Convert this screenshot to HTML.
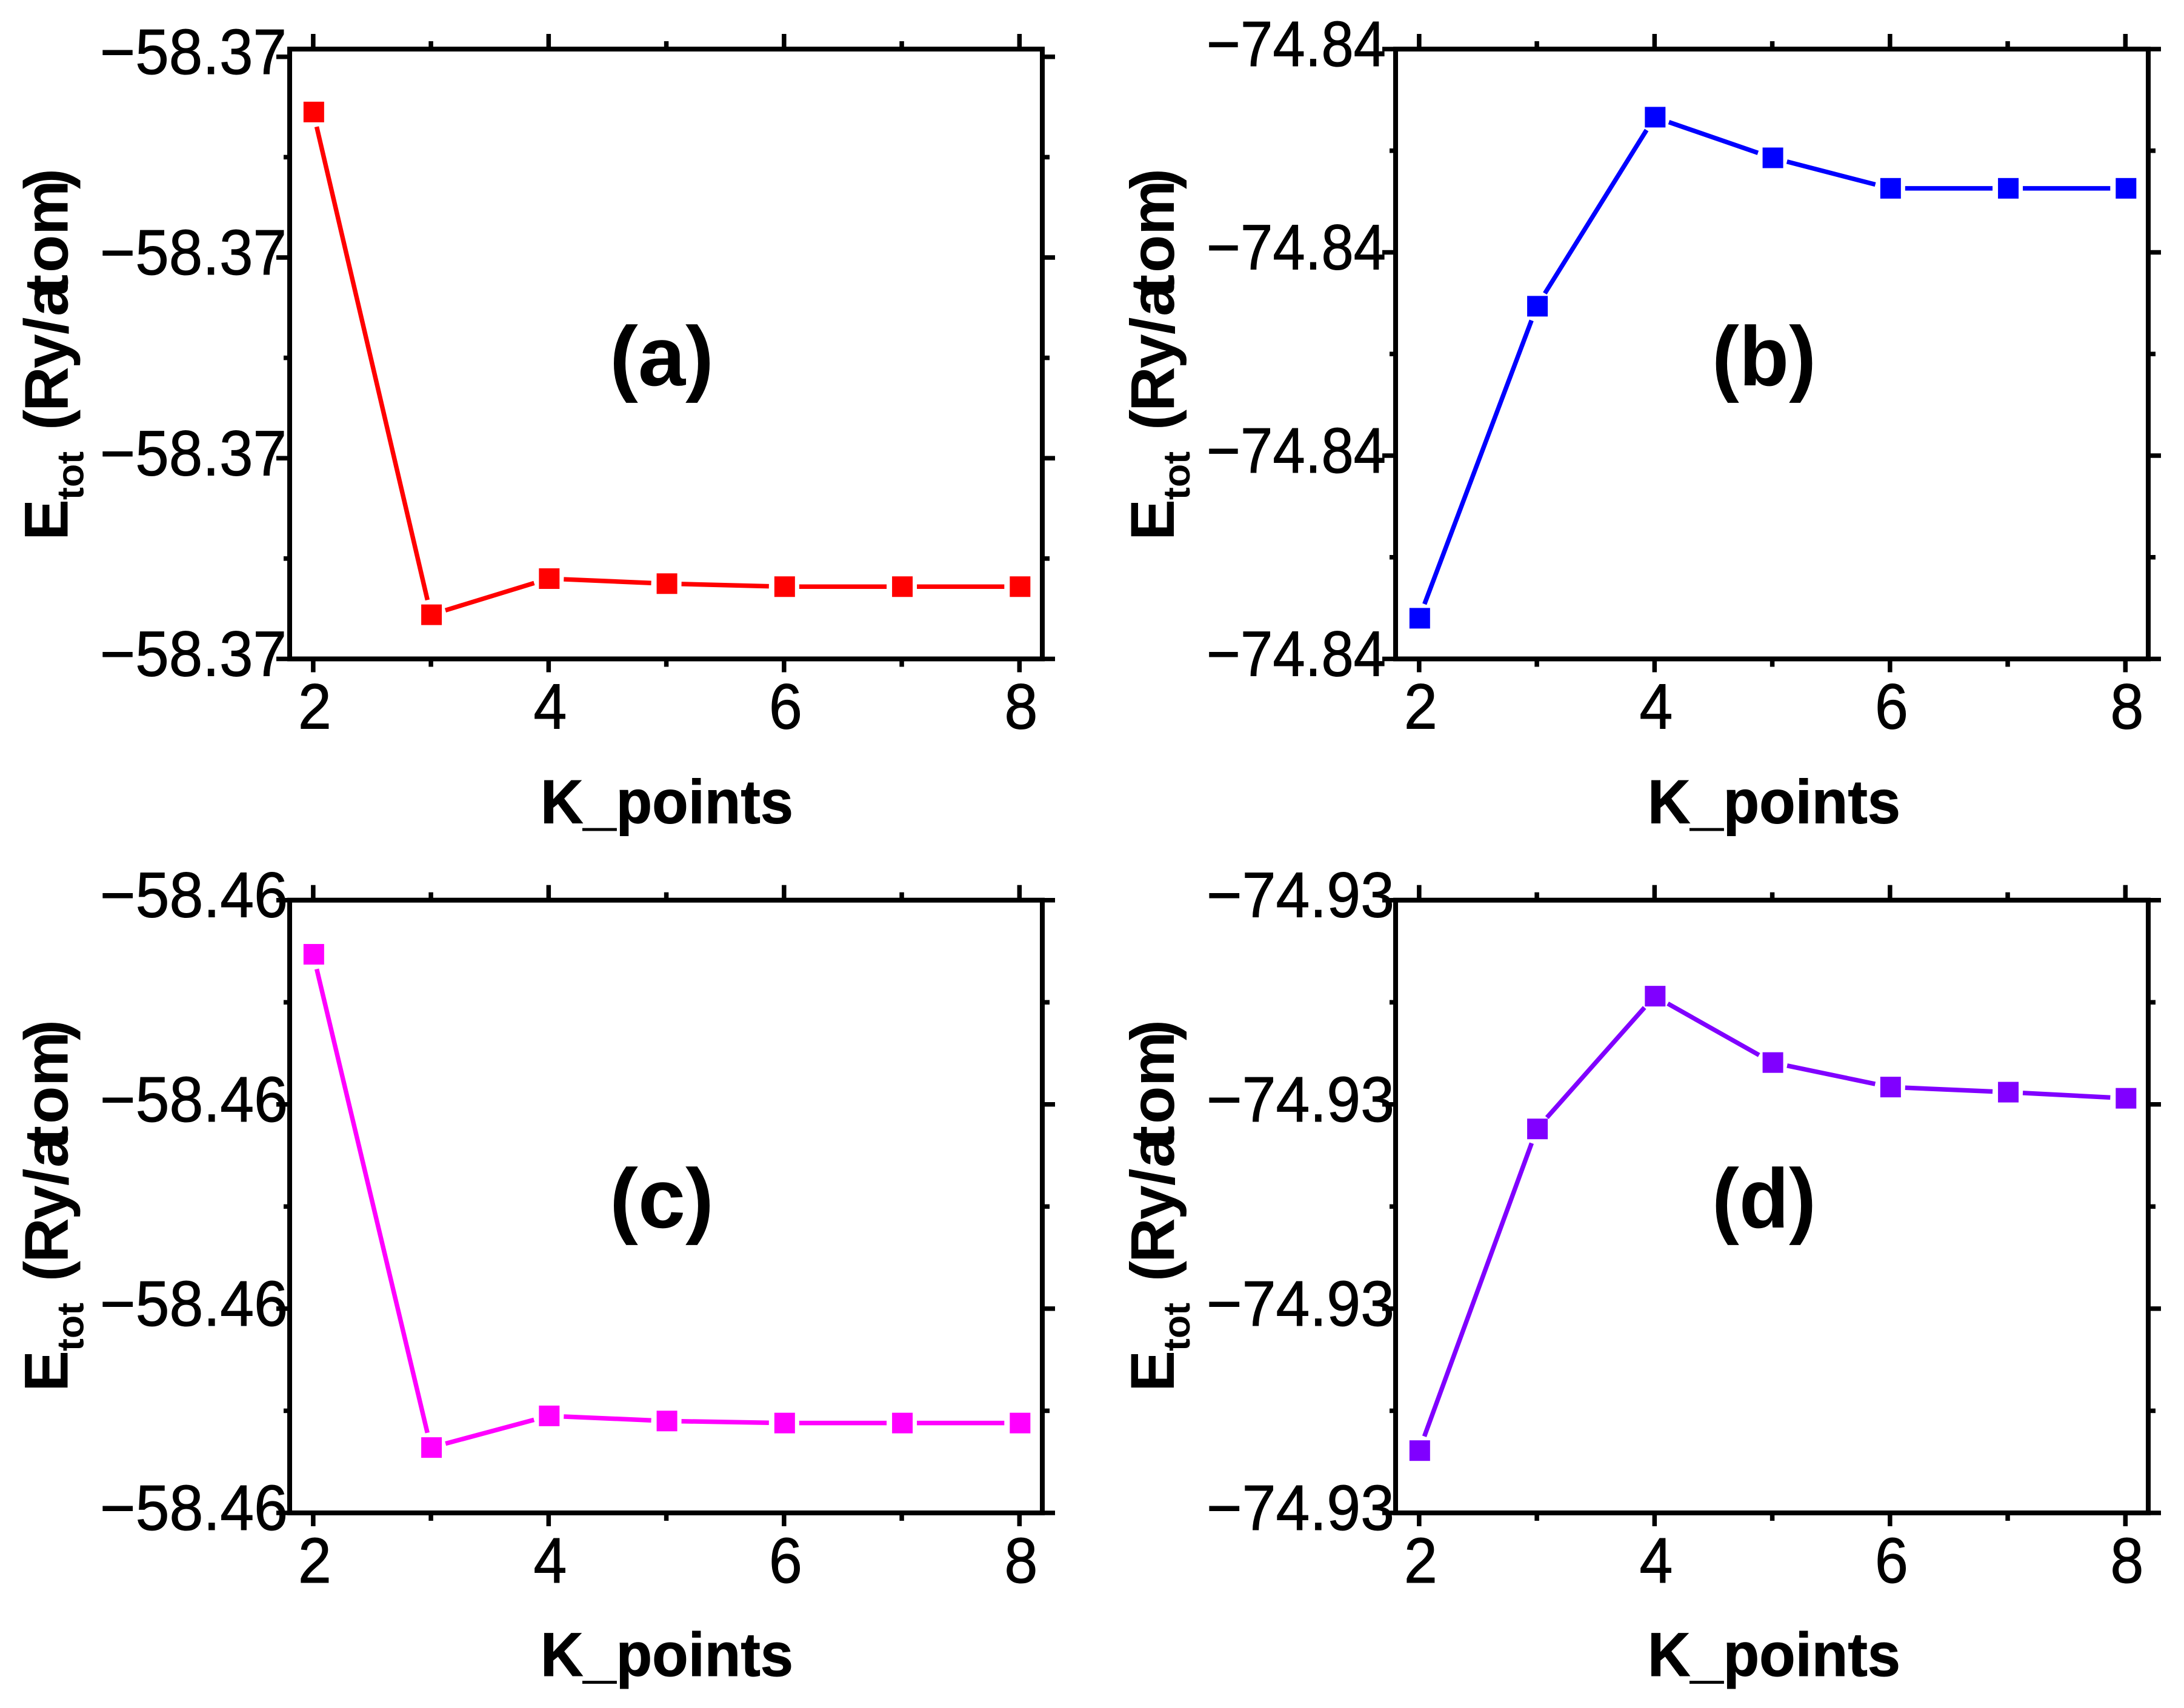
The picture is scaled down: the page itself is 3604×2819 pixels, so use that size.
<!DOCTYPE html>
<html>
<head>
<meta charset="utf-8">
<title>Total energy convergence versus K-points</title>
<style>
html,body{margin:0;padding:0;background:#fff;}
#chart{display:block;}
text{font-family:"Liberation Sans",Arial,sans-serif;fill:#000;}
</style>
</head>
<body>
<svg id="chart" xmlns="http://www.w3.org/2000/svg" width="3604" height="2819" viewBox="0 0 3604 2819"></svg>
<script>
var kPoints = [2, 3, 4, 5, 6, 7, 8];
var xTickValues = [2, 3, 4, 5, 6, 7, 8];
var xTickLabels = ["2", "", "4", "", "6", "", "8"];

var energyA = [-58.36655, -58.37156, -58.37120, -58.37125, -58.37128, -58.37128, -58.37128];
var energyB = [-74.84360, -74.84053, -74.83867, -74.83907, -74.83937, -74.83937, -74.83937];
var energyC = [-58.45853, -58.46336, -58.46305, -58.46310, -58.46312, -58.46312, -58.46312];
var energyD = [-74.93339, -74.93024, -74.92894, -74.92959, -74.92983, -74.92988, -74.92994];

var yTicksA = [-58.372, -58.370, -58.368, -58.366];
var yTicksB = [-74.844, -74.842, -74.840, -74.838];
var yTicksC = [-58.464, -58.462, -58.460, -58.458];
var yTicksD = [-74.934, -74.932, -74.930, -74.928];

var yLabelsA = ["\u221258.37", "\u221258.37", "\u221258.37", "\u221258.37"];
var yLabelsB = ["\u221274.84", "\u221274.84", "\u221274.84", "\u221274.84"];
var yLabelsC = ["\u221258.46", "\u221258.46", "\u221258.46", "\u221258.46"];
var yLabelsD = ["\u221274.93", "\u221274.93", "\u221274.93", "\u221274.93"];

var xDomain = [1.8, 8.194];

var svg = document.getElementById('chart');
var NS = 'http://www.w3.org/2000/svg';

function make(tag, attrs, parent) {
  var el = document.createElementNS(NS, tag);
  for (var key in attrs) { el.setAttribute(key, attrs[key]); }
  parent.appendChild(el);
  return el;
}

function drawPanel(p) {
  var g = make('g', {}, svg);
  
  

  var xScale = function (v) {
    return p.left + (v - xDomain[0]) / (xDomain[1] - xDomain[0]) * (p.right - p.left);
  };
  var yScale = function (v) {
    return p.bottom - (v - p.yDomain[0]) / (p.yDomain[1] - p.yDomain[0]) * (p.bottom - p.top);
  };

  // x ticks: top and bottom, majors labelled, minors between them
  xTickValues.forEach(function (v, i) {
    var major = xTickLabels[i] !== '';
    var x = xScale(v);
    var top = make('line', {x1: x, x2: x, y1: p.top, y2: p.top - (major ? 25 : 13), stroke: '#000', 'stroke-width': 7.5}, g);
    
    
    var bottom = make('line', {x1: x, x2: x, y1: p.bottom, y2: p.bottom + (major ? 22 : 13), stroke: '#000', 'stroke-width': 7.5}, g);
    
    
    if (major) {
      var label = make('text', {x: x + 2.5, y: p.bottom + 115, 'font-size': 106, 'text-anchor': 'middle', textLength: 55, lengthAdjust: 'spacingAndGlyphs', stroke: '#000', 'stroke-width': 1}, g);
      label.textContent = xTickLabels[i];
      
      
    }
  });

  // y ticks: left and right, with minors halfway between majors
  p.yTicks.forEach(function (v, i) {
    var y = yScale(v);
    var left = make('line', {x1: p.left, x2: p.left - 22, y1: y, y2: y, stroke: '#000', 'stroke-width': 7.5}, g);
    
    
    var right = make('line', {x1: p.right, x2: p.right + 21, y1: y, y2: y, stroke: '#000', 'stroke-width': 7.5}, g);
    
    
    var label = make('text', {x: p.labelX, y: y + 28, 'font-size': 106, textLength: p.labelLen, lengthAdjust: 'spacingAndGlyphs', stroke: '#000', 'stroke-width': 1}, g);
    label.textContent = p.yLabels[i];
    
    
    if (i < p.yTicks.length - 1) {
      var ym = yScale((v + p.yTicks[i + 1]) / 2);
      var minorLeft = make('line', {x1: p.left, x2: p.left - 10, y1: ym, y2: ym, stroke: '#000', 'stroke-width': 7.5}, g);
      
      
      var minorRight = make('line', {x1: p.right, x2: p.right + 12, y1: ym, y2: ym, stroke: '#000', 'stroke-width': 7.5}, g);
      
      
    }
  });

  var frame = make('rect', {x: p.left, y: p.top, width: p.right - p.left, height: p.bottom - p.top, fill: 'none', stroke: '#000', 'stroke-width': 8}, g);
  
  

  // line segments with a gap around each symbol
  var gap = 25;
  for (var i = 0; i < kPoints.length - 1; i++) {
    var x1 = xScale(kPoints[i]), y1 = yScale(p.values[i]);
    var x2 = xScale(kPoints[i + 1]), y2 = yScale(p.values[i + 1]);
    var len = Math.sqrt((x2 - x1) * (x2 - x1) + (y2 - y1) * (y2 - y1));
    var ux = (x2 - x1) / len, uy = (y2 - y1) / len;
    var seg = make('line', {x1: x1 + ux * gap, y1: y1 + uy * gap, x2: x2 - ux * gap, y2: y2 - uy * gap, stroke: p.color, 'stroke-width': 7.5}, g);
    
    
  }

  kPoints.forEach(function (k, i) {
    var size = 34;
    var cx = xScale(k) + 1, cy = yScale(p.values[i]);
    var mark = make('rect', {x: cx - size / 2, y: cy - size / 2, width: size, height: size, fill: p.color}, g);
    
    
  });

  var panelLabel = make('text', {x: p.tagX, y: p.tagY, 'font-size': 139, 'font-weight': 'bold', 'text-anchor': 'middle', textLength: 172, lengthAdjust: 'spacingAndGlyphs'}, g);
  panelLabel.textContent = '(' + p.id + ')';
  
  

  var xTitle = make('text', {x: p.xTitleX, y: p.bottom + p.xTitleDy, 'font-size': 102, 'font-weight': 'bold', textLength: 417, lengthAdjust: 'spacingAndGlyphs', stroke: '#000', 'stroke-width': 1}, g);
  xTitle.textContent = 'K_points';
  
  

  var yTitle = make('g', {transform: 'translate(' + p.yTitleX + ',' + p.yTitleY + ') rotate(-90)'}, g);
  
  
  var e = make('text', {x: -7, y: 0, 'font-size': 102, 'font-weight': 'bold'}, yTitle);
  e.textContent = 'E';
  
  
  var sub = make('text', {x: 60, y: 26, 'font-size': 62, 'font-weight': 'bold', textLength: 80, lengthAdjust: 'spacingAndGlyphs'}, yTitle);
  sub.textContent = 'tot';
  
  
  var unit = make('text', {x: '175 206 277 333 363 398 435 497 573', y: 0, 'font-size': 102, 'font-weight': 'bold'}, yTitle);
  unit.textContent = '(Ry/atom)';
  
  
}

drawPanel({id: 'a', left: 478, right: 1720, top: 81, bottom: 1087.5,
  yDomain: [-58.372, -58.365923], yTicks: yTicksA, yLabels: yLabelsA, values: energyA, color: '#ff0000',
  labelX: 165, labelLen: 308, tagX: 1092, tagY: 636, xTitleX: 892, xTitleDy: 271, yTitleX: 111.6, yTitleY: 885});
drawPanel({id: 'b', left: 2303, right: 3545, top: 81, bottom: 1087.5,
  yDomain: [-74.844, -74.838], yTicks: yTicksB, yLabels: yLabelsB, values: energyB, color: '#0000ff',
  labelX: 1991, labelLen: 296, tagX: 2911, tagY: 636, xTitleX: 2719, xTitleDy: 271, yTitleX: 1937, yTitleY: 885});
drawPanel({id: 'c', left: 478, right: 1720, top: 1485.7, bottom: 2497,
  yDomain: [-58.464, -58.458], yTicks: yTicksC, yLabels: yLabelsC, values: energyC, color: '#ff00ff',
  labelX: 165, labelLen: 310, tagX: 1092, tagY: 2026, xTitleX: 892, xTitleDy: 269, yTitleX: 111.6, yTitleY: 2290});
drawPanel({id: 'd', left: 2303, right: 3545, top: 1485.7, bottom: 2497,
  yDomain: [-74.934, -74.928], yTicks: yTicksD, yLabels: yLabelsD, values: energyD, color: '#8000ff',
  labelX: 1991, labelLen: 310, tagX: 2911, tagY: 2026, xTitleX: 2719, xTitleDy: 269, yTitleX: 1937, yTitleY: 2290});
</script>
</body>
</html>
